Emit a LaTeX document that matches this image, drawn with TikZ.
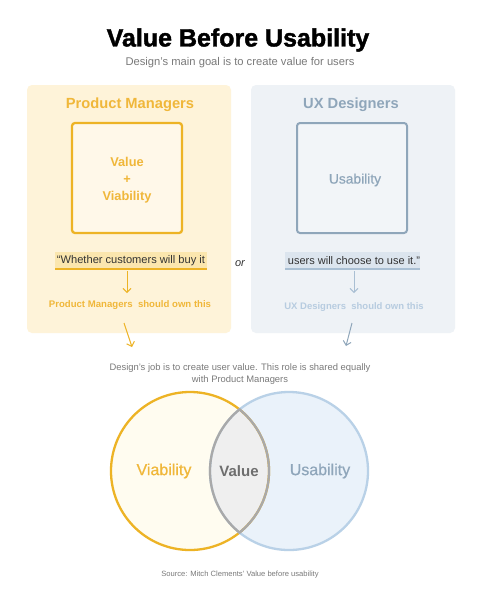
\documentclass[tikz,border=0pt]{standalone}
\usepackage{fontspec}
\setmainfont{Liberation Sans}
\newfontfamily\heavyfont{Liberation Sans}[BoldFeatures={FakeBold=1.6}]
\newfontfamily\midfont{Liberation Sans}[UprightFeatures={FakeBold=0.6}]
\usetikzlibrary{arrows.meta}
\definecolor{pmgold}{HTML}{EDB325}
\definecolor{pmtext}{HTML}{F0B73A}
\definecolor{pmpanel}{HTML}{FEF3D9}
\definecolor{pmsq}{HTML}{FFF8E9}
\definecolor{pmhl}{HTML}{FBE6AE}
\definecolor{uxpanel}{HTML}{EEF2F6}
\definecolor{uxtext}{HTML}{8FA6BA}
\definecolor{uxsq}{HTML}{F2F5F8}
\definecolor{uxhl}{HTML}{DCE5EE}
\definecolor{uxline}{HTML}{A9BFD3}
\definecolor{uxlight}{HTML}{B7CCE0}
\definecolor{greytext}{HTML}{7A7A7A}
\definecolor{quotetext}{HTML}{333333}
\definecolor{venL}{HTML}{FFFCF0}
\definecolor{venR}{HTML}{EAF2FA}
\definecolor{venRline}{HTML}{B9D1E7}
\definecolor{lensfill}{HTML}{EFEFEF}
\definecolor{lensline}{HTML}{A9A9A9}
\definecolor{valtext}{HTML}{6E6E6E}
\tikzset{
  panel/.style={rounded corners=5pt, draw=none},
  sq/.style={rounded corners=3pt, line width=2.3pt},
  barb/.style={-{Straight Barb[length=4pt,width=8pt]}, line width=1pt},
}
\begin{document}
\begin{tikzpicture}[x=1pt,y=-1pt]
\useasboundingbox[fill=white] (0,0) rectangle (480,600);
% title
\node[font=\heavyfont\fontsize{25}{30}\selectfont\bfseries] (title) at (238,40) {Value Before Usability};
\node[text=greytext, font=\fontsize{11.2}{13}\selectfont] (sub) at (240,63) {Design’s main goal is to create value for users};
% panels
\fill[pmpanel, panel] (27,85) rectangle (231,333);
\fill[uxpanel, panel] (251,85) rectangle (455,333);
% left panel
\node[text=pmtext, font=\fontsize{14.7}{17}\selectfont\bfseries] (pmh) at (130,105) {Product Managers};
\node[draw=pmgold, fill=pmsq, sq, minimum width=110pt, minimum height=110pt] (pmsq) at (127,178) {};
\node[text=pmtext, font=\fontsize{12.8}{17}\selectfont\bfseries, align=center] (pmv) at (127,180) {Value\\+\\Viability};
\fill[pmhl] (55,252) rectangle (207,268.5);
\draw[pmgold, line width=1.2pt] (55,269) -- (207,269);
\node[text=quotetext, font=\fontsize{11.1}{13}\selectfont] (q1) at (131,261) {“Whether customers will buy it};
\coordinate (q1b) at (127,271);
\coordinate (q1e) at (127,293);
\draw[pmgold, barb, line width=0.9pt] (q1b) -- (q1e);
\node[text=pmtext, font=\fontsize{9.6}{11}\selectfont\bfseries] (own1) at (130,305) {Product Managers\ \ should own this};
% right panel
\node[text=uxtext, font=\fontsize{14.7}{17}\selectfont\bfseries] (uxh) at (351,105) {UX Designers};
\node[draw=uxtext, fill=uxsq, sq, line width=2pt, minimum width=110pt, minimum height=110pt] (uxsq) at (352,178) {};
\node[text=uxtext, font=\midfont\fontsize{13.8}{16}\selectfont] (uxv) at (355,180) {Usability};
\fill[uxhl] (285,252) rectangle (420,268.5);
\draw[uxline, line width=1.2pt] (285,269) -- (420,269);
\node[text=quotetext, font=\fontsize{11}{13}\selectfont] (q2) at (354,261) {users will choose to use it.”};
\coordinate (q2b) at (354,271);
\coordinate (q2e) at (354,293);
\draw[uxline, barb, line width=0.9pt] (q2b) -- (q2e);
\node[text=uxlight, font=\fontsize{9.5}{11}\selectfont\bfseries] (own2) at (354,307) {UX Designers\ \ should own this};
% or
\node[text=quotetext, font=\fontsize{11}{13}\selectfont\itshape] (or) at (240,264) {or};
% arrows to venn
\coordinate (a1s) at (124,323);
\coordinate (a1e) at (132,347);
\draw[pmgold, barb] (a1s) -- (a1e);
\coordinate (a2s) at (352,323);
\coordinate (a2e) at (346,346);
\draw[uxtext, barb] (a2s) -- (a2e);
% description
\node[text=greytext, font=\fontsize{9.4}{11.5}\selectfont, align=center] (desc) at (240,374) {Design’s job is to create user value. This role is shared equally\\with Product Managers};
% venn
\coordinate (cl) at (190,471);
\coordinate (cr) at (289,471);
\fill[venL] (cl) circle (79);
\fill[venR] (cr) circle (79);
\begin{scope}
\clip (cl) circle (79);
\fill[lensfill] (cr) circle (79);
\end{scope}
\draw[pmgold, line width=2.3pt] (cl) circle (79);
\draw[venRline, line width=2.3pt] (cr) circle (79);
\begin{scope}
\clip (cl) circle (80.2);
\draw[lensline, line width=2.3pt] (cr) circle (79);
\end{scope}
\begin{scope}
\clip (cr) circle (80.2);
\draw[lensline, line width=2.3pt] (cl) circle (79);
\end{scope}
\node[text=pmtext, font=\midfont\fontsize{16}{19}\selectfont] (vv) at (164,471) {Viability};
\node[text=valtext, font=\fontsize{15}{18}\selectfont\bfseries] (vval) at (239,471) {Value};
\node[text=uxtext, font=\midfont\fontsize{16}{19}\selectfont] (vus) at (320,471) {Usability};
\node[text=greytext, font=\fontsize{7.6}{9}\selectfont] (src) at (240,575) {Source: Mitch Clements’ Value before usability};
\end{tikzpicture}
\end{document}
